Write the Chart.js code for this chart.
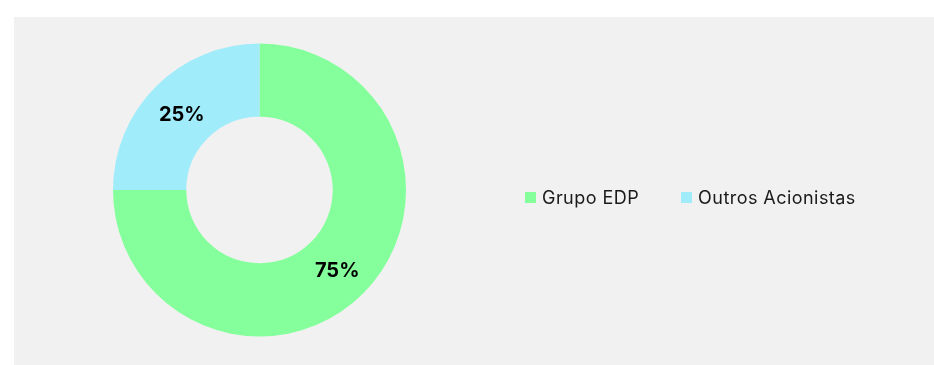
<!DOCTYPE html>
<html>
<head>
<meta charset="utf-8">
<script src="https://cdn.jsdelivr.net/npm/chart.js@4"></script>
<style>
    html, body { margin: 0; padding: 0; background: #fff; }
    #panel {
        position: absolute;
        left: 14px; top: 17px;
        width: 920px; height: 348px;
        background: #f1f1f1;
    }
    #myChart { position: absolute; left: 0; top: 0; }
    #legend {
        position: absolute;
        left: 511px; top: 170px;
        display: flex;
        font-family: Inter, sans-serif;
        font-size: 18px;
        letter-spacing: 0.45px;
        color: #1a1a1a;
    }
    .item { display: flex; align-items: center; margin-right: 42px; }
    .box { width: 11px; height: 11px; margin-right: 6px; }
</style>
</head>
<body>
<div id="panel">
    <canvas id="myChart" width="920" height="348"></canvas>
    <div id="legend"></div>
</div>
<script>
let labels = ['Grupo EDP', 'Outros Acionistas'];
let shares = [75, 25];
let colors = ['#84ff9b', '#a0ecfb'];

// write the percentage in the middle of each slice
let sliceLabels = {
    id: 'sliceLabels',
    afterDatasetsDraw(chart) {
        let ctx = chart.ctx;
        let meta = chart.getDatasetMeta(0);
        ctx.save();
        ctx.font = 'bold 20px Inter, sans-serif';
        ctx.fillStyle = '#000';
        ctx.textAlign = 'center';
        ctx.textBaseline = 'middle';
        meta.data.forEach((arc, i) => {
            let p = arc.getCenterPoint();
            ctx.fillText(shares[i] + '%', p.x, p.y + 3);
        });
        ctx.restore();
    }
};

let ctx = document.getElementById('myChart').getContext('2d');
let myChart = new Chart(ctx, {
    type: 'doughnut',
    data: {
        labels: labels,
        datasets: [{
            data: shares,
            backgroundColor: colors,
            borderWidth: 0
        }]
    },
    options: {
        responsive: false,
        animation: false,
        cutout: '50%',
        layout: {
            padding: { left: 99, right: 528, top: 26, bottom: 28 }
        },
        plugins: {
            legend: { display: false },
            tooltip: { enabled: false }
        }
    },
    plugins: [sliceLabels]
});

// legend in a single row to the right of the ring
let legendEl = document.getElementById('legend');
labels.forEach((name, i) => {
    let item = document.createElement('div');
    item.className = 'item';
    let box = document.createElement('span');
    box.className = 'box';
    box.style.background = colors[i];
    item.appendChild(box);
    item.appendChild(document.createTextNode(name));
    legendEl.appendChild(item);
});
</script>
</body>
</html>
